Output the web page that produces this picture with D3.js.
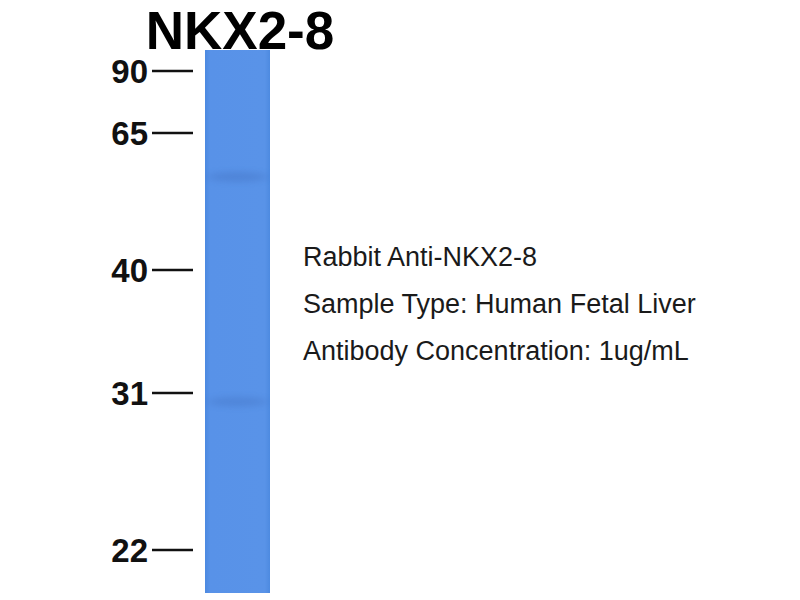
<!DOCTYPE html>
<html>
<head>
<meta charset="utf-8">
<style>
    body { margin: 0; background: #ffffff; }
    svg { display: block; }
    .mw-label { font-family: "Liberation Sans", Arial, sans-serif; font-weight: bold; font-size: 33px; fill: #111; }
    .title { font-family: "Liberation Sans", Arial, sans-serif; font-weight: bold; font-size: 53px; fill: #000; }
    .info { font-family: "Liberation Sans", Arial, sans-serif; font-size: 27px; fill: #1a1a1a; }
</style>
</head>
<body>
<div id="chart"></div>
<script src="https://d3js.org/d3.v7.min.js"></script>
<script>
// marker ladder (kDa) and the pixel rows they sit at on the blot
var markers = [90, 65, 40, 31, 22];
var markerRows = [71, 133, 270, 393, 550];

// detected bands in the single lane (kDa, relative darkness)
var bandKda = [57, 30.5];
var bandStrength = [0.2, 0.18];

var infoLines = [
    "Rabbit Anti-NKX2-8",
    "Sample Type: Human Fetal Liver",
    "Antibody Concentration: 1ug/mL"
];

var width = 800, height = 600;
var svg = d3.select("#chart").append("svg")
    .attr("width", width)
    .attr("height", height);

// gel migration is not log-linear, so piecewise scale through the ladder
var y = d3.scaleLinear().domain(markers).range(markerRows);

var lane = { x0: 205, x1: 270, top: 50, bottom: 593 };

var defs = svg.append("defs");
defs.append("filter").attr("id", "blur")
    .attr("x", "-20%").attr("y", "-200%").attr("width", "140%").attr("height", "500%")
    .append("feGaussianBlur").attr("stdDeviation", "6 3");

var laneGrad = defs.append("linearGradient").attr("id", "laneGrad")
    .attr("x1", "0").attr("x2", "1").attr("y1", "0").attr("y2", "0");
laneGrad.append("stop").attr("offset", "0%").attr("stop-color", "#4c89e0");
laneGrad.append("stop").attr("offset", "8%").attr("stop-color", "#5892e8");
laneGrad.append("stop").attr("offset", "92%").attr("stop-color", "#5993e8");
laneGrad.append("stop").attr("offset", "100%").attr("stop-color", "#4d8ae0");

svg.append("rect")
    .attr("x", lane.x0).attr("y", lane.top)
    .attr("width", lane.x1 - lane.x0).attr("height", lane.bottom - lane.top)
    .attr("fill", "url(#laneGrad)");

var clip = defs.append("clipPath").attr("id", "laneClip");
clip.append("rect")
    .attr("x", lane.x0).attr("y", lane.top)
    .attr("width", lane.x1 - lane.x0).attr("height", lane.bottom - lane.top);

svg.append("g").attr("clip-path", "url(#laneClip)")
    .selectAll("ellipse")
    .data(bandKda)
    .enter()
    .append("ellipse")
    .attr("cx", (lane.x0 + lane.x1) / 2)
    .attr("cy", d => y(d))
    .attr("rx", 30)
    .attr("ry", 5)
    .attr("fill", "#2a4f9a")
    .attr("opacity", (d, i) => bandStrength[i])
    .attr("filter", "url(#blur)");

// ladder ticks and labels
var ladder = svg.append("g");
ladder.selectAll("line")
    .data(markers)
    .enter()
    .append("line")
    .attr("x1", 152).attr("x2", 193)
    .attr("y1", d => y(d)).attr("y2", d => y(d))
    .attr("stroke", "#111")
    .attr("stroke-width", 2.5);

ladder.selectAll("text")
    .data(markers)
    .enter()
    .append("text")
    .attr("class", "mw-label")
    .attr("x", 148)
    .attr("y", d => y(d) + 12)
    .attr("text-anchor", "end")
    .text(d => d);

svg.append("text")
    .attr("class", "title")
    .attr("x", 240)
    .attr("y", 49)
    .attr("text-anchor", "middle")
    .text("NKX2-8");

svg.append("g").selectAll("text")
    .data(infoLines)
    .enter()
    .append("text")
    .attr("class", "info")
    .attr("x", 303)
    .attr("y", (d, i) => 266 + i * 47)
    .text(d => d);
</script>
</body>
</html>
